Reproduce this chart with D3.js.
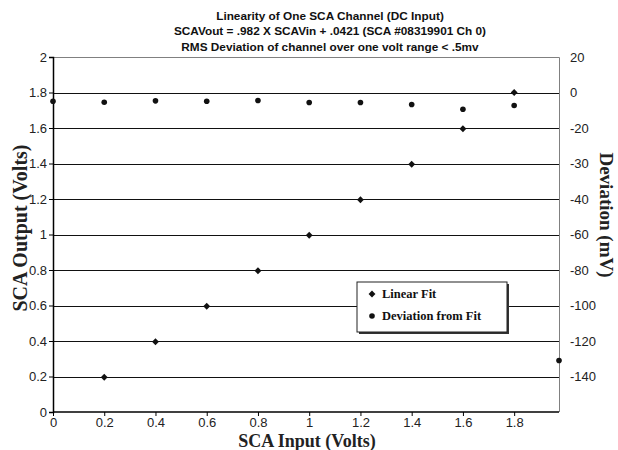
<!DOCTYPE html>
<html>
<head>
<meta charset="utf-8">
<script src="https://cdn.jsdelivr.net/npm/d3@7/dist/d3.min.js"></script>
<style>
  body { margin: 0; background: #fff; }
  text { font-family: "Liberation Sans", Arial, sans-serif; }
  .serif { font-family: "Liberation Serif", "Times New Roman", serif; font-weight: bold; }
</style>
</head>
<body>
<svg id="chart" width="618" height="450"></svg>
<script>
// chart values
var titleLines = [
  "Linearity of One SCA Channel (DC Input)",
  "SCAVout = .982 X SCAVin + .0421 (SCA #08319901 Ch 0)",
  "RMS Deviation of channel over one volt range < .5mv"
];
var fitX = [0.2, 0.4, 0.6, 0.8, 1.0, 1.2, 1.4, 1.6, 1.8];
var fitY = [0.196, 0.396, 0.596, 0.796, 0.996, 1.196, 1.396, 1.596, 1.8];
var devX = [0, 0.2, 0.4, 0.6, 0.8, 1.0, 1.2, 1.4, 1.6, 1.8, 1.975];
var devY = [-4.9, -5.5, -4.7, -4.9, -4.5, -5.6, -5.6, -6.8, -9.4, -7.3, -151];
var xTicks = [0, 0.2, 0.4, 0.6, 0.8, 1, 1.2, 1.4, 1.6, 1.8];
var yTicks = [0, 0.2, 0.4, 0.6, 0.8, 1, 1.2, 1.4, 1.6, 1.8, 2];
var rightTickLabels = ["20", "0", "-20", "-30", "-40", "-60", "-80", "-100", "-120", "-140"];
var legendLabels = ["Linear Fit", "Deviation from Fit"];

var svg = d3.select("#chart");
var plotL = 53, plotR = 559, plotT = 57, plotB = 412;

var x = d3.scaleLinear().domain([0, 1.975]).range([plotL, plotR]);
var y = d3.scaleLinear().domain([0, 2]).range([plotB, plotT]);
// deviation (mV) shares the left scale: 20 mV per 0.2 V gridline
var y2 = d3.scaleLinear().domain([-180, 20]).range([plotB, plotT]);

// title
svg.append("g").selectAll("text")
  .data(titleLines)
  .enter().append("text")
  .attr("x", 330)
  .attr("y", function(d, i) { return 19.5 + i * 15.5; })
  .attr("text-anchor", "middle")
  .attr("font-size", "11.8px")
  .attr("font-weight", "bold")
  .attr("fill", "#111")
  .text(function(d) { return d; });

// gridlines
svg.append("g").selectAll("line")
  .data(yTicks.filter(function(d) { return d > 0 && d < 2; }))
  .enter().append("line")
  .attr("x1", plotL).attr("x2", plotR)
  .attr("y1", function(d) { return Math.round(y(d)) + 0.5; })
  .attr("y2", function(d) { return Math.round(y(d)) + 0.5; })
  .attr("stroke", "#111")
  .attr("stroke-width", 1);

// plot border top/right (gray)
svg.append("path")
  .attr("d", "M" + plotL + "," + (plotT + 0.5) + "H" + (plotR + 0.5) + "V" + plotB)
  .attr("fill", "none")
  .attr("stroke", "#808080")
  .attr("stroke-width", 1);

function fmt(d) { return String(+d.toFixed(1)); }

// left axis
var yAxis = svg.append("g")
  .attr("transform", "translate(" + plotL + ",0)")
  .call(d3.axisLeft(y).tickValues(yTicks).tickSize(4).tickPadding(2).tickFormat(fmt));
yAxis.select(".domain").attr("stroke", "#000").attr("stroke-width", 1.5);
yAxis.selectAll("text").attr("font-size", "13px").attr("fill", "#222")
  .attr("font-family", "Liberation Sans, Arial, sans-serif");

// bottom axis
var xAxis = svg.append("g")
  .attr("transform", "translate(0," + plotB + ")")
  .call(d3.axisBottom(x).tickValues(xTicks).tickSize(4).tickPadding(2).tickFormat(fmt));
xAxis.select(".domain").attr("stroke", "#000").attr("stroke-width", 1.5)
  .attr("d", "M" + plotL + ",0H" + plotR);
xAxis.selectAll("text").attr("font-size", "13px").attr("fill", "#222")
  .attr("font-family", "Liberation Sans, Arial, sans-serif");

// right axis (labels only)
var rAxis = svg.append("g")
  .attr("transform", "translate(" + plotR + ",0)")
  .call(d3.axisRight(y).tickValues([2, 1.8, 1.6, 1.4, 1.2, 1, 0.8, 0.6, 0.4, 0.2])
    .tickSize(0).tickPadding(11)
    .tickFormat(function(d, i) { return rightTickLabels[i]; }));
rAxis.select(".domain").remove();
rAxis.selectAll("text").attr("font-size", "13px").attr("fill", "#222")
  .attr("font-family", "Liberation Sans, Arial, sans-serif");

// axis titles
svg.append("text").attr("class", "serif")
  .attr("transform", "translate(27,228) rotate(-90)")
  .attr("text-anchor", "middle").attr("font-size", "20px").attr("fill", "#222")
  .text("SCA Output (Volts)");
svg.append("text").attr("class", "serif")
  .attr("transform", "translate(600,215) rotate(90)")
  .attr("text-anchor", "middle").attr("font-size", "19px").attr("fill", "#222")
  .text("Deviation (mV)");
svg.append("text").attr("class", "serif")
  .attr("x", 307).attr("y", 447)
  .attr("text-anchor", "middle").attr("font-size", "18px").attr("fill", "#222")
  .text("SCA Input (Volts)");

var diamond = d3.symbol().type(d3.symbolDiamond2).size(30);

// linear fit markers
svg.append("g").selectAll("path")
  .data(fitX.map(function(d, i) { return [d, fitY[i]]; }))
  .enter().append("path")
  .attr("d", diamond)
  .attr("transform", function(d) { return "translate(" + x(d[0]) + "," + y(d[1]) + ")"; })
  .attr("fill", "#111");

// deviation markers
svg.append("g").selectAll("circle")
  .data(devX.map(function(d, i) { return [d, devY[i]]; }))
  .enter().append("circle")
  .attr("cx", function(d) { return x(d[0]); })
  .attr("cy", function(d) { return y2(d[1]); })
  .attr("r", 2.8)
  .attr("fill", "#111");

// legend
var lg = svg.append("g").attr("transform", "translate(357,282)");
lg.append("rect").attr("x", 2).attr("y", 2).attr("width", 150).attr("height", 50).attr("fill", "#333");
lg.append("rect").attr("width", 150).attr("height", 50).attr("fill", "#fff")
  .attr("stroke", "#222").attr("stroke-width", 1);
lg.append("path").attr("d", diamond).attr("transform", "translate(15,12)").attr("fill", "#111");
lg.append("circle").attr("cx", 15).attr("cy", 34).attr("r", 2.8).attr("fill", "#111");
lg.selectAll("text.lab")
  .data(legendLabels)
  .enter().append("text")
  .attr("class", "serif lab")
  .attr("x", 25)
  .attr("y", function(d, i) { return 16 + i * 22; })
  .attr("font-size", "12.5px")
  .attr("fill", "#111")
  .text(function(d) { return d; });
</script>
</body>
</html>
